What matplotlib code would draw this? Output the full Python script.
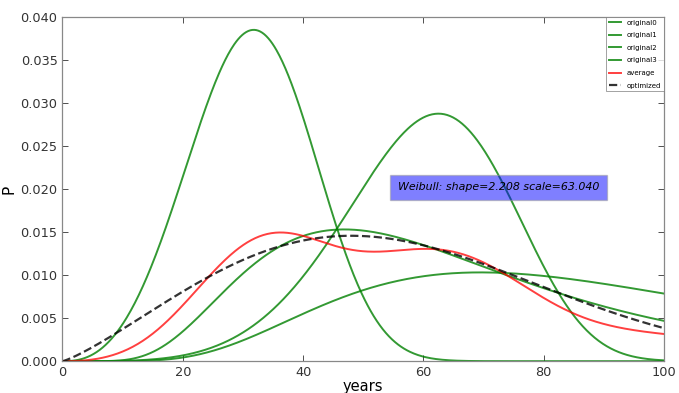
import numpy as np
import matplotlib
matplotlib.use("Agg")
import matplotlib.pyplot as plt

# lifetime distributions (years)
orig_kind = ["weibull", "weibull", "lognorm", "lognorm"]
orig_shape = [3.5, 5.0, 0.493, 0.493]     # weibull shape / lognormal sigma
orig_scale = [35.0, 65.35, 59.7, 88.6]    # weibull scale / lognormal median
orig_names = ["original0", "original1", "original2", "original3"]

# fitted weibull
fit_shape = 2.208
fit_scale = 63.040

x = np.linspace(0, 100, 600)


def weibull_pdf(t, k, lam):
    return (k / lam) * (t / lam) ** (k - 1) * np.exp(-(t / lam) ** k)


def lognorm_pdf(t, s, med):
    t = np.maximum(t, 1e-9)
    return np.exp(-(np.log(t / med)) ** 2 / (2 * s * s)) / (t * s * np.sqrt(2 * np.pi))


def pdf(kind, t, a, b):
    if kind == "weibull":
        return weibull_pdf(t, a, b)
    return lognorm_pdf(t, a, b)


fig = plt.figure(figsize=(6.79, 3.93), dpi=100)
ax = fig.add_axes([0.092, 0.081, 0.886, 0.876])

curves = []
for kind, a, b, name in zip(orig_kind, orig_shape, orig_scale, orig_names):
    y = pdf(kind, x, a, b)
    curves.append(y)
    ax.plot(x, y, color="g", lw=1.4, alpha=0.8, label=name)

avg = np.mean(curves, axis=0)
ax.plot(x, avg, color="r", lw=1.4, alpha=0.75, label="average")
ax.plot(x, weibull_pdf(x, fit_shape, fit_scale), "k--", lw=1.6, alpha=0.8,
        label="optimized")

ax.text(55.8, 0.0202, f"Weibull: shape={fit_shape:.3f} scale={fit_scale:.3f}",
        style="italic", fontsize=7.9, va="center", ha="left",
        bbox=dict(facecolor="blue", alpha=0.5, edgecolor="#999999", pad=5.5))

ax.set_xlim(0, 100)
ax.set_ylim(0, 0.040)
ax.set_xticks([0, 20, 40, 60, 80, 100])
ax.set_yticks(np.arange(0, 0.0401, 0.005))
ax.yaxis.set_major_formatter(matplotlib.ticker.FormatStrFormatter("%.3f"))
ax.tick_params(direction="in", top=True, right=True, labelsize=9.3,
               colors="#333333", length=4, width=0.6)
for sp in ax.spines.values():
    sp.set_color("#888888")
    sp.set_linewidth(0.9)

ax.set_xlabel("years", fontsize=10.5, labelpad=0)
ax.set_ylabel("P", fontsize=11, labelpad=3)

leg = ax.legend(loc="upper right", fontsize=5, borderaxespad=0,
                frameon=True, fancybox=False, handlelength=1.8,
                labelspacing=0.95)
leg.get_frame().set_edgecolor("#777777")
leg.get_frame().set_linewidth(0.6)

fig.savefig("out.png", dpi=100)
